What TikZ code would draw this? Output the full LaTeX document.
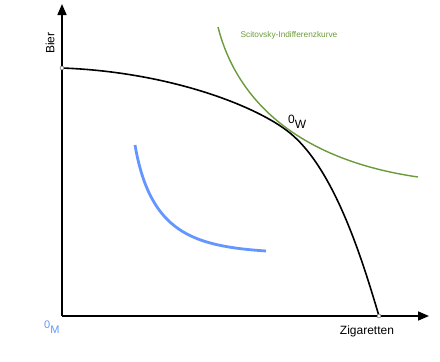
\documentclass[tikz,border=0pt]{standalone}
\usepackage{fontspec}
\setmainfont{Liberation Sans}
\usetikzlibrary{arrows.meta}
\definecolor{curvegreen}{RGB}{106,154,58}
\definecolor{curveblue}{RGB}{100,150,255}
\begin{document}
\begin{tikzpicture}[x=1pt,y=-1pt,
  axis/.style={line width=1.6pt,-{Triangle[length=11pt,width=9pt]}},
  ppf/.style={line width=1.6pt,black},
  scit/.style={line width=1.4pt,curvegreen},
  indiff/.style={line width=2.8pt,curveblue},
  endpt/.style={circle,draw=black!70,fill=white,line width=0.4pt,inner sep=0pt,minimum size=4pt},
  lbl/.style={inner sep=0pt,font=\fontsize{12}{14}\selectfont}]
\useasboundingbox (0,0) rectangle (440,362);
\coordinate (O) at (62,316);
\coordinate (ytip) at (62,4);
\coordinate (xtip) at (429,316);
\draw[axis] (O) -- (ytip);
\draw[axis] (O) -- (xtip);
\draw[ppf] (62,68) .. controls (170,72) and (257.5,106.4) .. (290,133)
  .. controls (336.5,171) and (364.6,268.1) .. (379,316);
\node[endpt] (A) at (62,68) {};
\node[endpt] (B) at (379,316) {};
\draw[scit] (218,27) .. controls (237,102) and (300,160) .. (418,177);
\draw[indiff] (135,145) .. controls (150,232) and (192,246) .. (266,251);
\node[lbl,rotate=90] (bier) at (50,43) {Bier};
\node[lbl] (zig) at (367,331) {Zigaretten};
\node[inner sep=0pt,text=curvegreen,font=\fontsize{8.3}{10}\selectfont] (sc) at (289,35) {Scitovsky-Indifferenzkurve};
\node[inner sep=0pt,anchor=base west,font=\fontsize{12}{14}\selectfont] (ow) at (288,123) {0\raisebox{-5pt}{W}};
\node[inner sep=0pt,anchor=base west,text=curveblue,font=\fontsize{11}{13}\selectfont] (om) at (44,328) {0\raisebox{-5pt}{M}};
\end{tikzpicture}
\end{document}
